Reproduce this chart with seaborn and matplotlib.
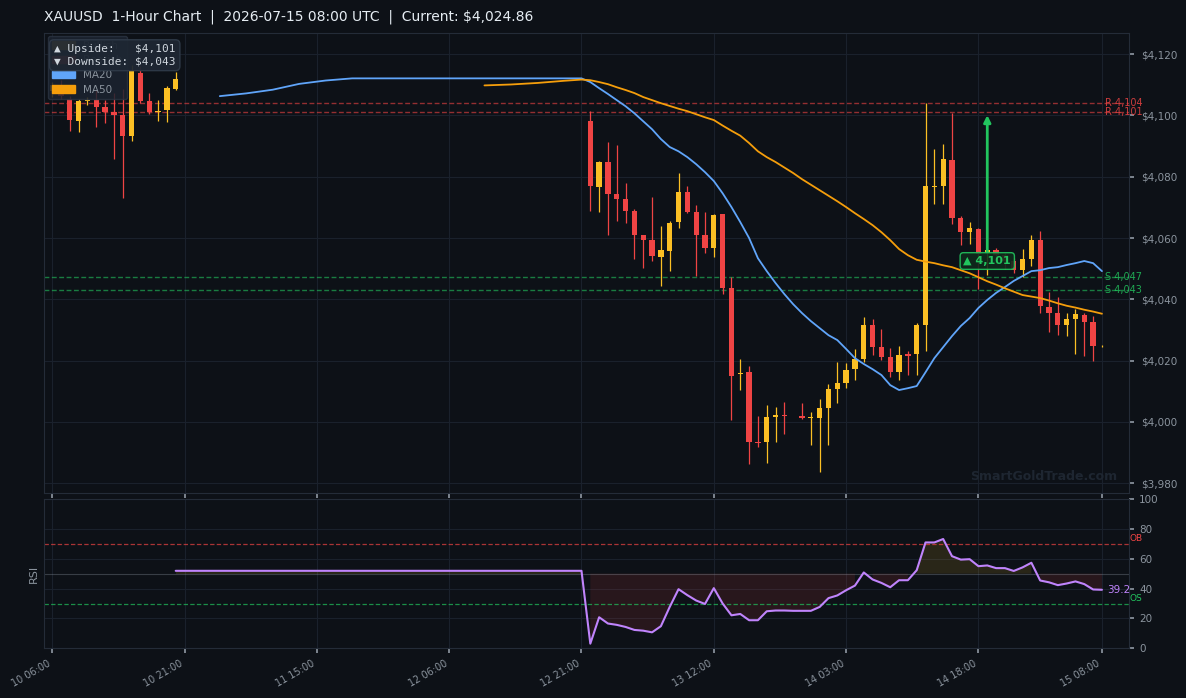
import numpy as np
import pandas as pd
import matplotlib
matplotlib.use('Agg')
import matplotlib.pyplot as plt
import matplotlib.transforms as mtransforms
from matplotlib.patches import Patch
import seaborn as sns

# ---- data (hourly bars, x = bar number) ----
tick_idx = [0, 15, 30, 45, 60, 75, 90, 105, 119]
tick_labels = ['10 06:00', '10 21:00', '11 15:00', '12 06:00', '12 21:00',
               '13 12:00', '14 03:00', '14 18:00', '15 08:00']

candle_idx = list(range(0, 15)) + list(range(61, 120))
opens = [4108.0, 4110.0, 4105.5, 4098.1, 4104.7, 4105.0, 4102.8, 4101.1, 4100.1, 4093.2,
         4113.8, 4104.7, 4101.2, 4101.7, 4108.6,
         4098.1, 4076.6, 4084.8, 4074.3, 4072.7, 4068.8, 4060.9, 4059.3, 4053.8, 4055.7,
         4065.2, 4075.0, 4068.4, 4060.9, 4056.7, 4067.8, 4043.6, 4015.5, 4016.2, 3993.4,
         3993.4, 4001.5, 4002.2, 4002.0, 4002.0, 4001.4, 4001.2, 4004.5, 4010.7, 4012.6,
         4017.2, 4020.5, 4031.6, 4024.4, 4021.1, 4016.2, 4022.0, 4022.0, 4031.6, 4076.6,
         4076.9, 4085.4, 4066.5, 4061.9, 4062.9, 4055.2, 4056.0, 4054.3, 4052.5, 4049.5,
         4053.1, 4059.3, 4037.4, 4035.5, 4031.6, 4033.5, 4034.8, 4032.6, 4024.7]
highs = [4111.0, 4111.5, 4106.5, 4105.5, 4106.0, 4108.3, 4105.0, 4107.2, 4108.6, 4116.5,
         4116.0, 4107.4, 4105.2, 4109.6, 4114.2,
         4101.4, 4085.1, 4091.3, 4090.3, 4077.9, 4069.4, 4061.0, 4073.3, 4063.9, 4065.5,
         4081.2, 4076.9, 4070.7, 4068.4, 4067.8, 4067.8, 4047.2, 4020.5, 4018.2, 4001.9,
         4005.5, 4004.8, 4006.5, 4002.0, 4006.2, 4003.2, 4007.4, 4012.3, 4019.5, 4019.2,
         4023.7, 4034.2, 4033.5, 4030.3, 4024.1, 4024.7, 4023.1, 4032.2, 4103.9, 4089.0,
         4090.6, 4100.7, 4067.1, 4065.2, 4063.2, 4056.5, 4056.7, 4055.0, 4053.5, 4056.3,
         4060.9, 4062.2, 4042.3, 4040.7, 4035.5, 4036.8, 4035.5, 4034.5, 4025.2]
lows = [4106.0, 4105.5, 4095.0, 4094.6, 4103.5, 4096.3, 4097.6, 4085.7, 4073.1, 4091.7,
        4103.9, 4100.6, 4098.1, 4097.9, 4108.3,
        4068.8, 4068.4, 4061.0, 4065.5, 4064.9, 4053.1, 4050.2, 4052.5, 4044.3, 4049.2,
        4063.2, 4068.1, 4047.6, 4055.1, 4053.8, 4041.7, 4000.6, 4010.4, 3986.2, 3991.9,
        3986.5, 3993.4, 3996.2, 4002.0, 4001.1, 3992.4, 3983.6, 3992.4, 4006.1, 4011.0,
        4013.6, 4019.5, 4021.8, 4020.2, 4014.6, 4013.6, 4015.3, 4015.3, 4023.1, 4071.0,
        4071.0, 4064.5, 4057.7, 4058.0, 4043.3, 4047.9, 4052.0, 4050.0, 4048.6, 4047.2,
        4050.8, 4035.5, 4029.3, 4028.3, 4028.0, 4022.1, 4021.5, 4019.8, 4024.5]
closes = [4110.0, 4106.5, 4098.5, 4104.7, 4105.0, 4102.8, 4101.1, 4100.1, 4093.2, 4114.5,
          4104.7, 4101.2, 4101.5, 4108.8, 4112.0,
          4076.9, 4084.8, 4074.3, 4072.7, 4068.8, 4060.9, 4059.3, 4054.1, 4056.0, 4064.9,
          4075.0, 4068.4, 4060.9, 4056.7, 4067.5, 4043.6, 4014.9, 4016.0, 3993.4, 3993.0,
          4001.5, 4002.2, 4002.0, 4002.0, 4001.4, 4001.6, 4004.5, 4010.7, 4012.6, 4016.9,
          4020.5, 4031.6, 4024.4, 4021.1, 4016.2, 4021.8, 4021.6, 4031.6, 4076.9, 4076.9,
          4085.7, 4066.5, 4061.9, 4063.2, 4054.7, 4056.0, 4054.3, 4052.5, 4049.5, 4053.1,
          4059.3, 4037.8, 4035.5, 4031.6, 4033.5, 4035.2, 4032.6, 4024.7, 4024.86]

ma20_idx = [19, 22, 25, 28, 31, 34] + list(range(60, 120))
ma20 = [4106.3, 4107.2, 4108.4, 4110.3, 4111.4, 4112.1,
        4112.1, 4110.9, 4108.9, 4107.0, 4105.0, 4103.0, 4100.7, 4098.1, 4095.5, 4092.3,
        4089.7, 4088.3, 4086.4, 4084.1, 4081.5, 4078.6, 4074.6, 4070.1, 4065.2, 4060.0,
        4053.4, 4049.2, 4045.3, 4041.7, 4038.4, 4035.5, 4032.9, 4030.6, 4028.3, 4026.7,
        4023.8, 4020.8, 4018.9, 4017.2, 4015.3, 4012.0, 4010.4, 4011.0, 4011.7, 4016.2,
        4020.8, 4024.4, 4028.0, 4031.3, 4033.9, 4037.2, 4039.8, 4042.1, 4044.0, 4046.0,
        4047.6, 4049.2, 4049.5, 4050.2, 4050.5, 4051.2, 4051.8, 4052.5, 4051.8, 4049.2]

ma50_idx = [49, 52, 55, 58] + list(range(60, 120))
ma50 = [4109.8, 4110.1, 4110.6, 4111.3,
        4111.7, 4111.5, 4110.9, 4110.2, 4109.2, 4108.3, 4107.3, 4106.0, 4105.0, 4104.0,
        4103.1, 4102.2, 4101.4, 4100.4, 4099.4, 4098.5, 4096.7, 4095.0, 4093.4, 4091.0,
        4088.3, 4086.4, 4084.8, 4083.0, 4081.2, 4079.2, 4077.4, 4075.6, 4073.8, 4072.0,
        4070.1, 4068.1, 4066.2, 4064.2, 4061.9, 4059.3, 4056.4, 4054.4, 4052.9, 4052.3,
        4051.8, 4051.1, 4050.5, 4049.5, 4048.5, 4047.2, 4045.9, 4044.8, 4043.6, 4042.5,
        4041.4, 4040.9, 4040.4, 4039.6, 4038.7, 4037.9, 4037.3, 4036.6, 4036.0, 4035.3]

rsi_idx = [14] + list(range(60, 120))
rsi = [51.9,
       51.9, 3.1, 20.8, 16.6, 15.7, 14.3, 12.3, 11.8, 10.7, 14.8,
       27.7, 39.6, 35.6, 32.0, 29.7, 40.3, 30.0, 22.1, 23.0, 18.8,
       18.8, 24.8, 25.3, 25.3, 25.1, 25.1, 25.1, 27.7, 33.6, 35.4,
       38.9, 42.0, 50.8, 46.1, 43.8, 40.9, 45.6, 45.6, 52.3, 70.9,
       70.9, 73.2, 61.7, 59.4, 59.7, 55.0, 55.5, 53.7, 53.7, 51.8,
       54.2, 57.3, 45.4, 44.2, 42.3, 43.4, 44.8, 43.0, 39.4, 39.2]

resistance = [4104.2, 4101.2]
support = [4047.4, 4043.2]
upside, downside = 4101, 4043
current = 4024.86

# ---- style ----
BG = '#0d1117'
GRID = '#1a212c'
TXT = '#8b949e'
UP, DOWN = '#fbbf24', '#ef4444'
BLUE, ORANGE, PURPLE, GREEN = '#60a5fa', '#f59e0b', '#c084fc', '#22c55e'

sns.set_theme(style='ticks', rc={'axes.facecolor': BG, 'figure.facecolor': BG,
                                 'axes.edgecolor': '#2a3340', 'text.color': TXT,
                                 'xtick.color': TXT, 'ytick.color': TXT})
plt.rcParams['font.family'] = ['DejaVu Sans']

W, H = 1186, 698
fig = plt.figure(figsize=(W / 100, H / 100), dpi=100)
ax = fig.add_axes([44 / W, 1 - 492.7 / H, (1129.3 - 44) / W, (492.7 - 32.7) / H])
ax2 = fig.add_axes([44 / W, 1 - 648.3 / H, (1129.3 - 44) / W, (648.3 - 499) / H], sharex=ax)

# ---- candles ----
df = pd.DataFrame({'i': candle_idx, 'open': opens, 'high': highs, 'low': lows, 'close': closes})
df['color'] = np.where(df['close'] >= df['open'], UP, DOWN)
wick = df[df['high'] > df['low']]
ax.vlines(wick['i'], wick['low'], wick['high'], colors=wick['color'], lw=0.9, zorder=3)
ax.bar(df['i'], (df['close'] - df['open']).abs(), bottom=df[['open', 'close']].min(axis=1),
       width=0.6, color=df['color'], linewidth=0, zorder=4)

sns.lineplot(x=ma20_idx, y=ma20, ax=ax, color=BLUE, lw=1.3, zorder=5)
sns.lineplot(x=ma50_idx, y=ma50, ax=ax, color=ORANGE, lw=1.3, zorder=5)

last_x = candle_idx[-1]
for lv in resistance:
    ax.axhline(lv, color=DOWN, ls=(0, (3.5, 1.8)), lw=1, alpha=0.6, zorder=2)
    ax.text(last_x + 0.3, lv, f'R {lv:,.0f}', color=DOWN, fontsize=7, va='center',
            ha='left', alpha=0.85, clip_on=False, zorder=6)
for lv in support:
    ax.axhline(lv, color=GREEN, ls=(0, (3.5, 1.8)), lw=1, alpha=0.6, zorder=2)
    ax.text(last_x + 0.3, lv, f'S {lv:,.0f}', color=GREEN, fontsize=7, va='center',
            ha='left', alpha=0.85, clip_on=False, zorder=6)

ax.annotate(f'▲ {upside:,}', xy=(106, upside), xytext=(106, 4052.5),
            ha='center', va='center', color=GREEN, fontsize=8, fontweight='bold',
            bbox=dict(boxstyle='round,pad=0.3', fc='#0f2a1c', ec=GREEN, lw=1, alpha=0.9),
            arrowprops=dict(arrowstyle='-|>', color=GREEN, lw=2, mutation_scale=10,
                            shrinkA=0, shrinkB=2),
            zorder=7)

ax.text(0.989, 0.036, 'SmartGoldTrade.com', transform=ax.transAxes, ha='right',
        va='center', fontsize=9, fontweight='bold', color='#1e2631', zorder=1)

handles = [Patch(color=UP, label='Bullish'), Patch(color=DOWN, label='Bearish'),
           Patch(color=BLUE, label='MA20'), Patch(color=ORANGE, label='MA50')]
leg = ax.legend(handles=handles, loc='upper left', fontsize=7.5, frameon=True,
                facecolor='#1c2330', edgecolor='#2a3340', framealpha=0.85,
                labelcolor=TXT, handlelength=2.2, handleheight=0.7,
                borderaxespad=0.35, labelspacing=0.45)
leg.set_zorder(8)

ax.text(0.0092, 0.975, f'▲ Upside:   ${upside:,}\n▼ Downside: ${downside:,}',
        transform=ax.transAxes, ha='left', va='top', fontsize=8, color='#d0d7de',
        family=['DejaVu Sans Mono', 'DejaVu Sans'], linespacing=1.25,
        bbox=dict(boxstyle='round,pad=0.4', fc='#1e2733', ec='#2f3a48', alpha=0.95),
        zorder=9)

ax.set_ylim(3976.9, 4127.0)
ax.set_xlim(-0.93, 122.1)
ax.set_yticks(np.arange(3980, 4121, 20))
ax.set_yticklabels([f'${v:,.0f}' for v in np.arange(3980, 4121, 20)])
ax.yaxis.tick_right()
ax.tick_params(axis='y', labelsize=7.5, length=3.5, color=TXT, pad=5)
ax.tick_params(axis='x', labelbottom=False, length=3.5, color=TXT)
ax.grid(True, color=GRID, lw=0.8)
ax.set_xlabel('')
ax.set_ylabel('')
ax.set_title(f'XAUUSD  1-Hour Chart  |  2026-07-15 08:00 UTC  |  Current: ${current:,.2f}',
             loc='left', color='#e6edf3', fontsize=10, pad=9)

# ---- RSI panel ----
rx = np.array(rsi_idx)
ry = np.array(rsi)
ax2.fill_between(rx, ry, 50, where=ry >= 50, color=UP, alpha=0.12, lw=0, zorder=1)
ax2.fill_between(rx, ry, 50, where=ry < 50, color=DOWN, alpha=0.12, lw=0, zorder=1)
ax2.axhline(50, color=TXT, lw=0.8, alpha=0.35, zorder=1)
ax2.axhline(70, color=DOWN, ls=(0, (3.5, 1.8)), lw=0.9, alpha=0.7)
ax2.axhline(30, color=GREEN, ls=(0, (3.5, 1.8)), lw=0.9, alpha=0.7)
sns.lineplot(x=rsi_idx, y=rsi, ax=ax2, color=PURPLE, lw=1.5, zorder=4)

tr = mtransforms.blended_transform_factory(ax2.transAxes, ax2.transData)
ax2.text(1.0, 70.5, 'OB', transform=tr, color=DOWN, fontsize=6.5, ha='left', va='bottom')
ax2.text(1.0, 30.5, 'OS', transform=tr, color=GREEN, fontsize=6.5, ha='left', va='bottom')
ax2.text(rsi_idx[-1] + 0.6, rsi[-1], f'{rsi[-1]:.1f}', color=PURPLE, fontsize=7.5,
         ha='left', va='center')

ax2.set_ylim(0, 100)
ax2.set_yticks(range(0, 101, 20))
ax2.yaxis.tick_right()
ax2.yaxis.set_label_position('left')
ax2.set_ylabel('RSI', color=TXT, fontsize=8, labelpad=4)
ax2.set_xlabel('')
ax2.set_xticks(tick_idx)
ax2.set_xticklabels(tick_labels, rotation=30, ha='right')
ax2.tick_params(axis='both', labelsize=7.5, length=3.5, color=TXT)
ax2.tick_params(axis='x', labelsize=7)
ax2.grid(True, color=GRID, lw=0.8)

for a in (ax, ax2):
    for s in a.spines.values():
        s.set_color('#242c38')
        s.set_linewidth(0.8)

fig.savefig('out.png', dpi=100, facecolor=BG)
